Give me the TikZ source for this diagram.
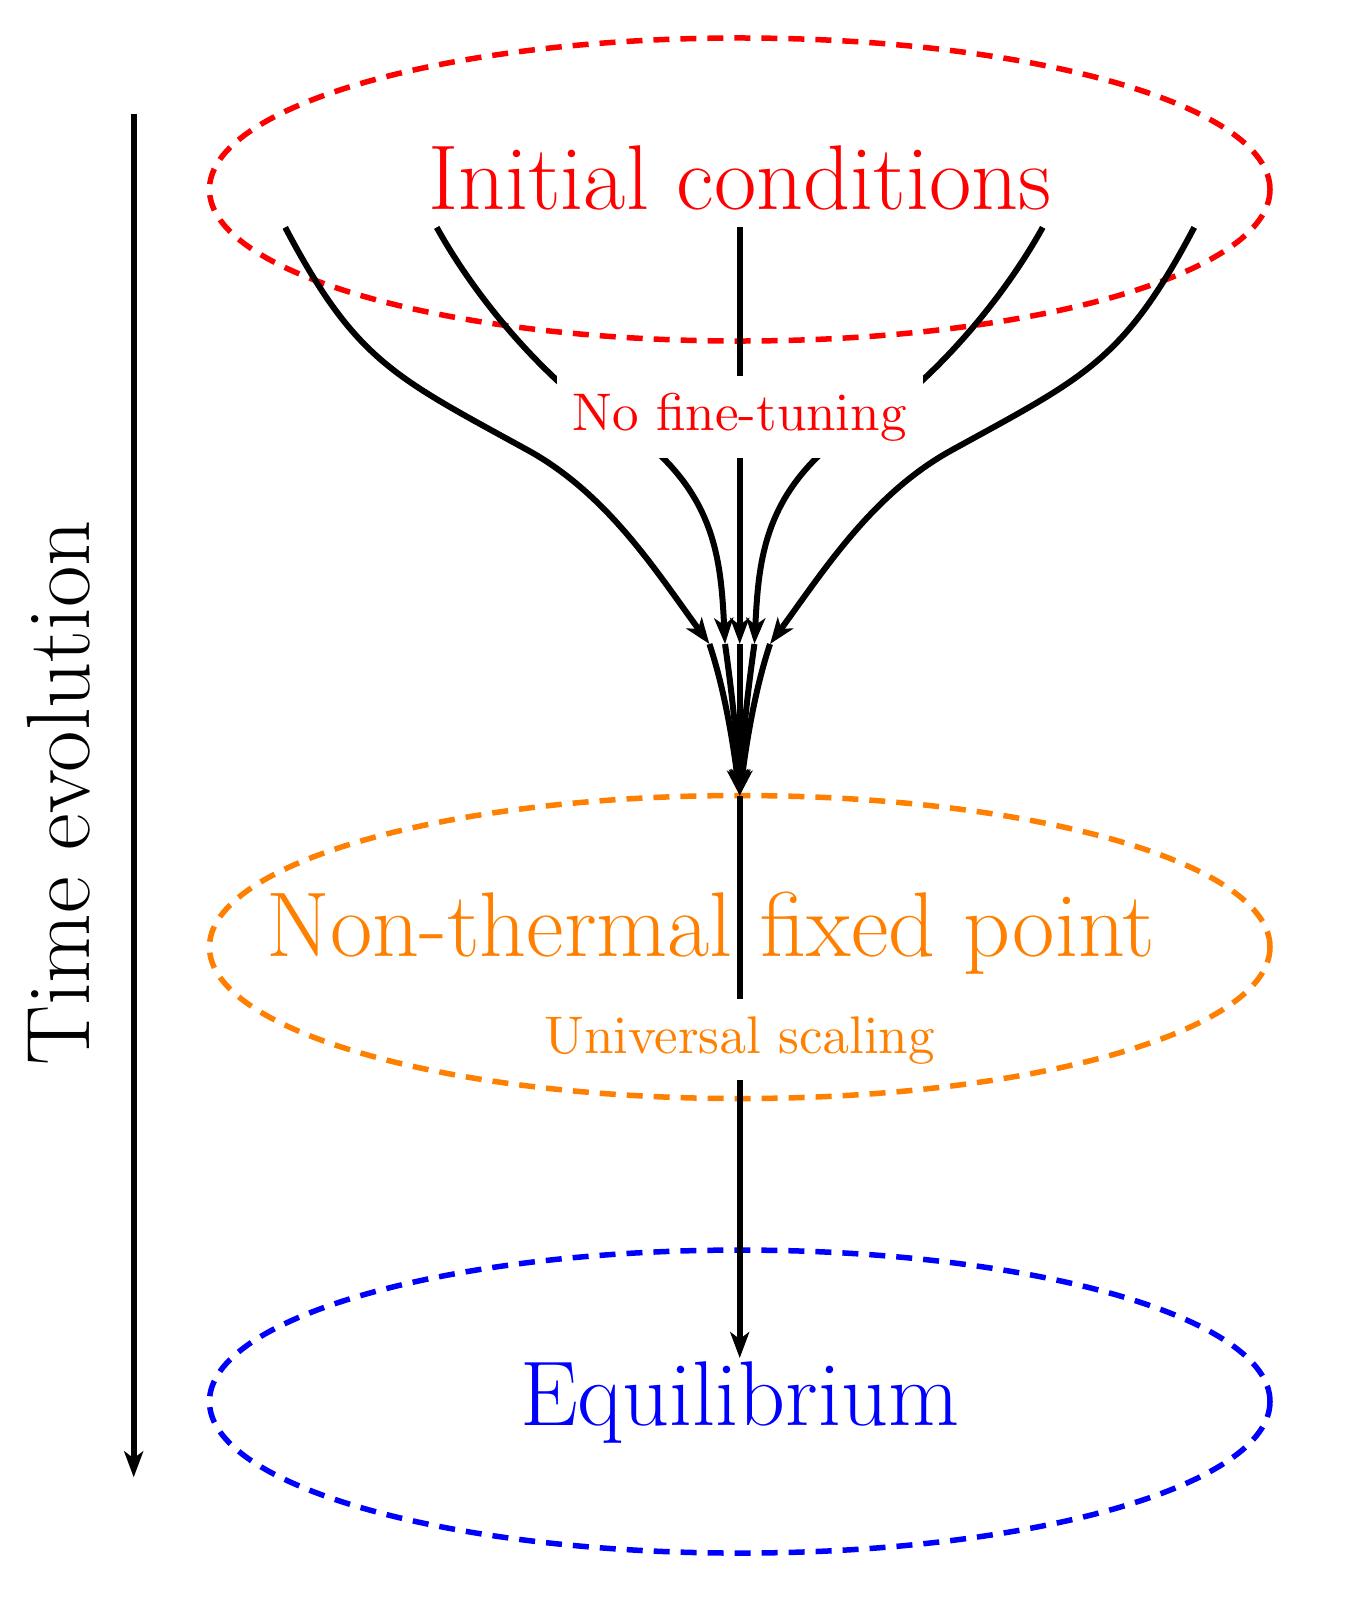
\documentclass[tikz,border=0pt]{standalone}
\usetikzlibrary{arrows.meta}
\definecolor{asyorange}{rgb}{1,0.5,0}
\font\smallfnt=cmr10 at 53pt
\begin{document}
\begin{tikzpicture}[x=151.5pt,y=151.5pt,
  bigtext/.style={font=\fontsize{92}{104}\selectfont, inner sep=0pt},
  smalltext/.style={font=\smallfnt, inner sep=0pt},
  ellipsedash/.style={line width=5.5pt, dash pattern=on 16pt off 11pt},
  flowline/.style={line width=6pt, -{Stealth[length=26pt,width=19pt,inset=7pt]}}
]
\useasboundingbox (-4.8825,1.2508) rectangle (4.035,-9.290);

% ellipses
\draw[ellipsedash, red] (0,0) ellipse [x radius=3.5, y radius=1];
\draw[ellipsedash, asyorange] (0,-5) ellipse [x radius=3.5, y radius=1];
\draw[ellipsedash, blue] (0,-8) ellipse [x radius=3.5, y radius=1];

% named points
\coordinate (conv) at (0,-4);
\coordinate (ctop) at (0,-0.25);
\coordinate (cmid) at (0,-3);

% flows, left and right
\foreach \s in {1,-1}{
\begin{scope}[xscale=\s]
\coordinate (a1) at (-3,-0.25);
\coordinate (t1) at (-0.2,-3);
\coordinate (a2) at (-2,-0.25);
\coordinate (t2) at (-0.097,-3);
\draw[flowline] (a1) .. controls (-2.534,-1.135) and (-2.276,-1.238) .. (-1.4,-1.72)
  .. controls (-0.874,-2.009) and (-0.554,-2.516) .. (t1);
\draw[flowline] (t1) .. controls (-0.096,-3.313) and (-0.041,-3.673) .. (conv);
\draw[flowline] (a2) .. controls (-1.733,-0.731) and (-1.30,-1.235) .. (-0.85,-1.55)
  .. controls (-0.686,-1.665) and (-0.596,-1.682) .. (-0.504,-1.774)
  .. controls (-0.15,-2.128) and (-0.122,-2.5) .. (t2);
\draw[flowline] (t2) .. controls (-0.05,-3.33) and (-0.015,-3.67) .. (conv);
\end{scope}
}
\draw[flowline] (ctop) -- (cmid);
\draw[flowline] (cmid) -- (conv);

% down to equilibrium
\coordinate (eqtip) at (0,-7.713);
\draw[flowline] (conv) -- (eqtip);

% time axis
\coordinate (tstart) at (-4,0.5);
\coordinate (tend) at (-4,-8.5);
\draw[flowline] (tstart) -- (tend);

% white backgrounds of the small labels
\fill[white] (-1.208,-1.231) rectangle (1.208,-1.774);
\fill[white] (-1.40,-5.345) rectangle (1.40,-5.878);

% labels
\node[smalltext, text=red] (nft) at (0,-1.5) {No fine-tuning};
\node[smalltext, text=asyorange] (us) at (0,-5.612) {Universal scaling};
\node[bigtext, text=red, anchor=base] (ic) at (0,-0.13) {Initial conditions};
\node[bigtext, text=asyorange, anchor=base] (ntfp) at (-0.191,-5.064) {Non-thermal fixed point};
\node[bigtext, text=blue, anchor=base] (eq) at (0,-8.16) {Equilibrium};
\node[bigtext, font=\fontsize{90}{102}\selectfont, rotate=90, anchor=base] (te) at (-4.289,-3.985) {Time evolution};
\end{tikzpicture}
\end{document}
